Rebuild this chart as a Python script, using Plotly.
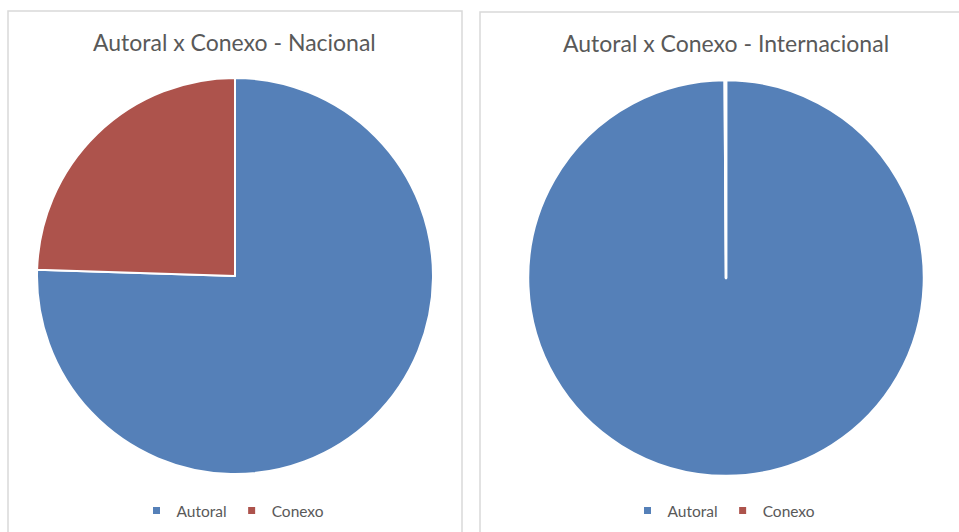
import plotly.graph_objects as go

W, H = 959, 532
labels = ["Autoral", "Conexo"]
nacional = [75.5, 24.5]
internacional = [99.9, 0.1]
titles = ["Autoral x Conexo - Nacional", "Autoral x Conexo - Internacional"]
colors = ["#5580B8", "#AD534C"]

def px(x):
    return x / W

def py(y):
    return 1 - y / H

fig = go.Figure()
fig.add_trace(go.Pie(
    labels=labels, values=nacional, sort=False, direction="clockwise", rotation=0,
    marker=dict(colors=colors, line=dict(color="white", width=2)),
    textinfo="none", hoverinfo="label+percent", showlegend=False,
    domain=dict(x=[px(37), px(433)], y=[py(474), py(78)]),
))
fig.add_trace(go.Pie(
    labels=labels, values=internacional, sort=False, direction="clockwise", rotation=0,
    marker=dict(colors=colors, line=dict(color="white", width=2.5)),
    textinfo="none", hoverinfo="label+percent", showlegend=False,
    domain=dict(x=[px(528), px(924)], y=[py(476), py(80)]),
))
# legend entries (one legend per panel)
for leg in ["legend", "legend2"]:
    for lab, col in zip(labels, colors):
        fig.add_trace(go.Scatter(
            x=[None], y=[None], mode="markers", name=lab, legend=leg,
            marker=dict(symbol="square", size=7, color=col), showlegend=True,
        ))

fig.update_xaxes(visible=False)
fig.update_yaxes(visible=False)

legfont = dict(size=15.5, color="#595959")
fig.update_layout(
    width=W, height=H,
    margin=dict(l=0, r=0, t=0, b=0),
    paper_bgcolor="white", plot_bgcolor="rgba(0,0,0,0)",
    font=dict(family="Lato, 'Open Sans', sans-serif", color="#595959"),
    legend=dict(orientation="h", x=px(233), xanchor="center", y=py(511), yanchor="middle",
                font=legfont, bgcolor="rgba(0,0,0,0)", itemwidth=30),
    legend2=dict(orientation="h", x=px(724), xanchor="center", y=py(511), yanchor="middle",
                 font=legfont, bgcolor="rgba(0,0,0,0)", itemwidth=30),
    shapes=[
        dict(type="rect", xref="paper", yref="paper", x0=px(8), x1=px(462), y0=py(540), y1=py(11),
             line=dict(color="#D9D9D9", width=1.5), fillcolor="rgba(0,0,0,0)", layer="below"),
        dict(type="rect", xref="paper", yref="paper", x0=px(480), x1=px(970), y0=py(540), y1=py(12),
             line=dict(color="#D9D9D9", width=1.5), fillcolor="rgba(0,0,0,0)", layer="below"),
    ],
    annotations=[
        dict(text=titles[0], x=px(234), y=py(42), xref="paper", yref="paper",
             xanchor="center", yanchor="middle", showarrow=False, font=dict(size=23, color="#595959")),
        dict(text=titles[1], x=px(726), y=py(43), xref="paper", yref="paper",
             xanchor="center", yanchor="middle", showarrow=False, font=dict(size=23, color="#595959")),
    ],
)
fig.write_html("out.html", config={"displayModeBar": False},
               post_script="document.body.style.margin='0';")
